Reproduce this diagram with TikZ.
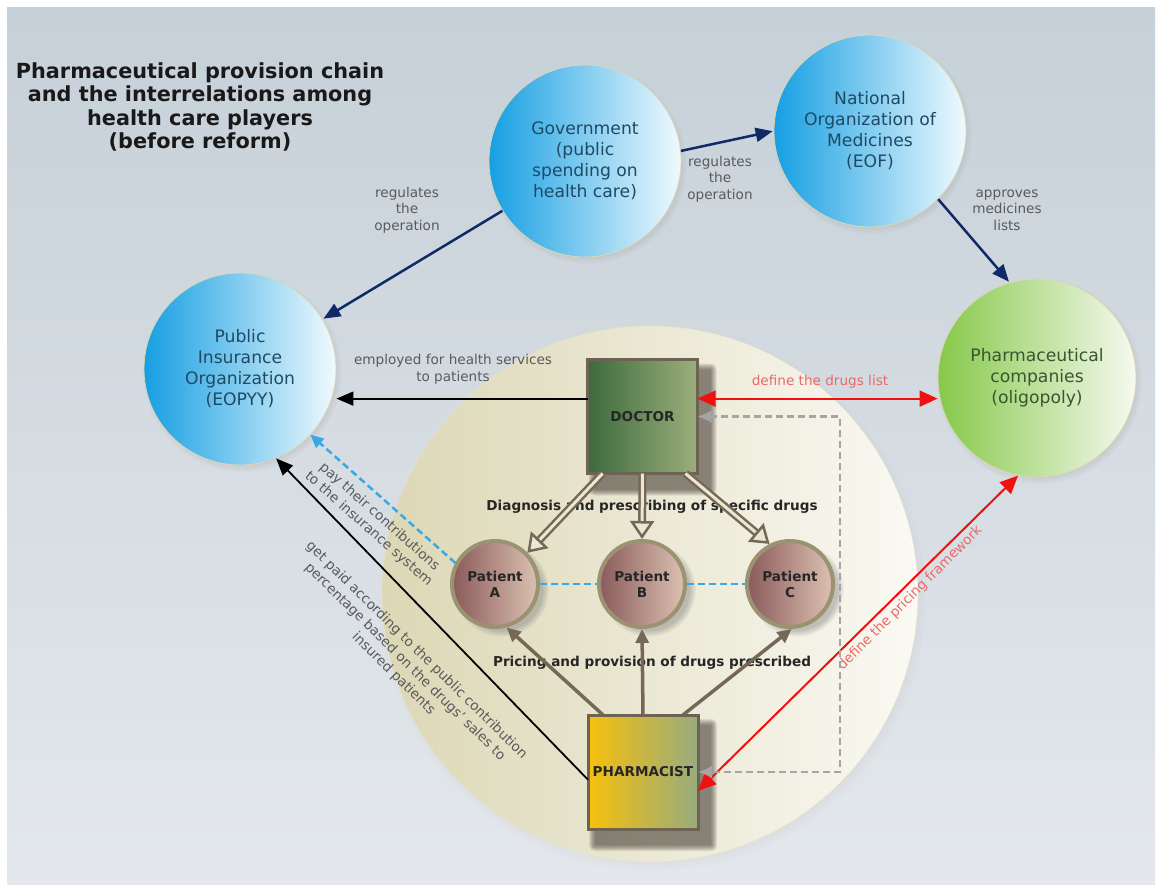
\documentclass[tikz,border=0pt]{standalone}
\usepackage{fontspec}
\setmainfont{DejaVu Sans}
\usetikzlibrary{arrows.meta,shadows,calc}
\definecolor{bgtop}{HTML}{C6D0D8}
\definecolor{bgbot}{HTML}{E4E8EC}
\definecolor{navy}{HTML}{0F2A66}
\definecolor{brownln}{HTML}{766856}
\definecolor{redln}{HTML}{F01010}
\definecolor{redtx}{HTML}{E86A6A}
\definecolor{bluedash}{HTML}{3AA8E4}
\definecolor{greydash}{HTML}{A5A5A5}
\definecolor{blueL}{HTML}{169FE2}
\definecolor{blueM}{HTML}{80D0F2}
\definecolor{blueR}{HTML}{F0FAFE}
\definecolor{greenL}{HTML}{86C84A}
\definecolor{greenR}{HTML}{F6FAEF}
\definecolor{patL}{HTML}{8A5A5A}
\definecolor{patR}{HTML}{DCC2B2}
\definecolor{patB}{HTML}{9B9272}
\definecolor{docL}{HTML}{3C6A3C}
\definecolor{docR}{HTML}{9CAF7C}
\definecolor{phL}{HTML}{F7C00C}
\definecolor{phR}{HTML}{98AB7E}
\definecolor{boxB}{HTML}{6E6352}
\definecolor{bigL}{HTML}{DCD7B5}
\definecolor{bigR}{HTML}{FAF9F3}
\definecolor{circtx}{HTML}{1F4A66}
\definecolor{greentx}{HTML}{3A5530}
\definecolor{lbltx}{HTML}{5A5A5A}
\definecolor{shadowc}{HTML}{3A332C}
\begin{document}
\begin{tikzpicture}[x=1pt,y=-1pt,
  bluec/.style={circle,minimum size=192pt,draw=bigL,line width=0.8pt,
    left color=blueL,middle color=blueM,right color=blueR,
    circular drop shadow={shadow xshift=2pt,shadow yshift=-3pt,opacity=.35,shadow scale=1.04},
    text=circtx,align=center,font=\fontsize{17.2}{21}\selectfont},
  greenc/.style={bluec,left color=greenL,middle color=greenL!50!greenR,right color=greenR,
    minimum size=198pt,text=greentx},
  pat/.style={circle,minimum size=86pt,draw=patB,line width=4pt,
    left color=patL,right color=patR,
    circular drop shadow={shadow xshift=6pt,shadow yshift=-5pt,opacity=.45},
    align=center,font=\fontsize{13.6}{16}\selectfont\bfseries,text=black!85},
  boxn/.style={rectangle,minimum width=110pt,minimum height=114pt,outer sep=0pt,
    draw=boxB,line width=3pt,
    font=\fontsize{13.6}{16}\selectfont\bfseries,text=black!85},
  lbl/.style={align=center,text=lbltx,font=\fontsize{13.6}{16.5}\selectfont,inner sep=0pt},
  redlbl/.style={lbl,text=redtx},
  boldlbl/.style={font=\fontsize{13.6}{16}\selectfont\bfseries,text=black!85},
  navyarr/.style={draw=navy,line width=2.5pt,-{Triangle[length=17pt,width=14pt]},shorten >=1pt},
  blackarr/.style={draw=black,line width=1.8pt,-{Triangle[length=17pt,width=14pt]}},
  redarr/.style={draw=redln,line width=2pt,{Triangle[length=18pt,width=16pt]}-{Triangle[length=18pt,width=16pt]}},
  brownarr/.style={draw=brownln,line width=3.5pt,-{Triangle[length=14pt,width=13pt]}},
  hollowarr/.style={draw=brownln,line width=2.5pt,double=bigL!60!white,double distance=3pt,
    -{Triangle[open,length=18pt,width=24pt,fill=bigL!60!white]}},
  bluedasharr/.style={draw=bluedash,line width=2.5pt,dash pattern=on 7pt off 4pt,
    -{Triangle[length=13pt,width=12pt]}},
  bluedashln/.style={draw=bluedash,line width=2.5pt,dash pattern=on 7pt off 4pt},
  greydasharr/.style={draw=greydash,line width=2.5pt,dash pattern=on 7pt off 4pt,
    {Latex[length=14pt,width=13pt]}-{Latex[length=14pt,width=13pt]}},
  softshadow/.style={fill=shadowc,opacity=.11}
]
\useasboundingbox (0,0) rectangle (1159,886);
\fill[white] (0,0) rectangle (1159,886);
\shade[top color=bgtop,bottom color=bgbot] (7,7) rectangle (1155,884);

% big background circle
\node[circle,minimum size=536pt,draw=bigL!70!white,line width=0.6pt,
  left color=bigL,right color=bigR,
  circular drop shadow={shadow xshift=3pt,shadow yshift=-4pt,opacity=.25,shadow scale=1.02}]
  (big) at (650,594) {};

% title
\node[align=center,font=\fontsize{20.8}{23.5}\selectfont\bfseries,text=black!90] (title) at (200,107)
  {Pharmaceutical provision chain\\and the interrelations among\\health care players\\(before reform)};

% circles
\node[bluec] (gov) at (585,161) {Government\\(public\\spending on\\health care)};
\node[bluec] (eof) at (870,131) {National\\Organization of\\Medicines\\(EOF)};
\node[bluec] (pio) at (240,369) {Public\\Insurance\\Organization\\(EOPYY)};
\node[greenc] (pc) at (1037,378) {Pharmaceutical\\companies\\(oligopoly)};

% soft shadows of the boxes
\coordinate (docc) at (642.5,416.5);
\coordinate (phc) at (643,772);
\foreach \cc in {docc,phc}{
  \foreach \e in {0,1,...,6}{
    \fill[softshadow,rounded corners=\e pt] ($(\cc)+(-58+10-\e,-60+13-\e)$) rectangle ($(\cc)+(58+10+\e,60+13+\e)$);
  }
}

% boxes
\node[boxn,left color=docL,right color=docR] (doc) at (docc) {DOCTOR};
\node[boxn,left color=phL,right color=phR] (ph) at (phc) {PHARMACIST};

% patients
\node[pat] (pa) at (495,584) {Patient\\A};
\node[pat] (pb) at (642,584) {Patient\\B};
\node[pat] (pcc) at (790,584) {Patient\\C};

% labels
\node[lbl] (l1) at (407,210) {regulates\\the\\operation};
\node[lbl] (l2) at (720,179) {regulates\\the\\operation};
\node[lbl] (l3) at (1007,210) {approves\\medicines\\lists};
\node[lbl] (l4) at (453,369) {employed for health services\\to patients};
\node[redlbl] (l5) at (820,382) {define the drugs list};
\node[lbl,rotate=-41.5] (l6) at (374,523) {pay their contributions\\to the insurance system};
\node[lbl,rotate=-44.5] (l7) at (405,662) {get paid according to the public contribution\\percentage based on the drugs' sales to\\insured patients};
\node[redlbl,rotate=45] (l8) at (910,598) {define the pricing framework};
\node[boldlbl] (l9) at (652,507) {Diagnosis and prescribing of specific drugs};
\node[boldlbl] (l10) at (652,663) {Pricing and provision of drugs prescribed};

% navy arrows
\draw[navyarr] (gov) -- (pio);
\draw[navyarr] (gov.6) -- (eof.180);
\draw[navyarr] (eof.-45) -- (pc.106);

% black arrows
\draw[blackarr] (doc.162) -- (doc.162 -| pio.east);
\draw[blackarr] (ph.188) -- (pio.-68);

% blue dashed
\draw[bluedasharr] (pa.152) -- (pio.-43);
\draw[bluedashln] (pa.east) -- (pb.west);
\draw[bluedashln] (pb.east) -- (pcc.west);

% red arrows
\draw[redarr] (doc.18) -- (doc.18 -| pc.west);
\draw[redarr] (ph.-19) -- (pc.-101);

% grey dashed
\coordinate (gx) at (840,0);
\draw[greydasharr] (doc.east) -- (doc.east -| gx) -- (ph.east -| gx) -- (ph.east);

% doctor -> patients (hollow)
\draw[hollowarr] (doc.-125) -- (pa.44);
\draw[hollowarr] (doc.south) -- (pb.north);
\draw[hollowarr] (doc.-53) -- (pcc.117);

% pharmacist -> patients
\draw[brownarr] (ph.125) -- (pa.-75);
\draw[brownarr] (ph.north) -- (pb.south);
\draw[brownarr] (ph.55) -- (pcc.-88);
\end{tikzpicture}
\end{document}
